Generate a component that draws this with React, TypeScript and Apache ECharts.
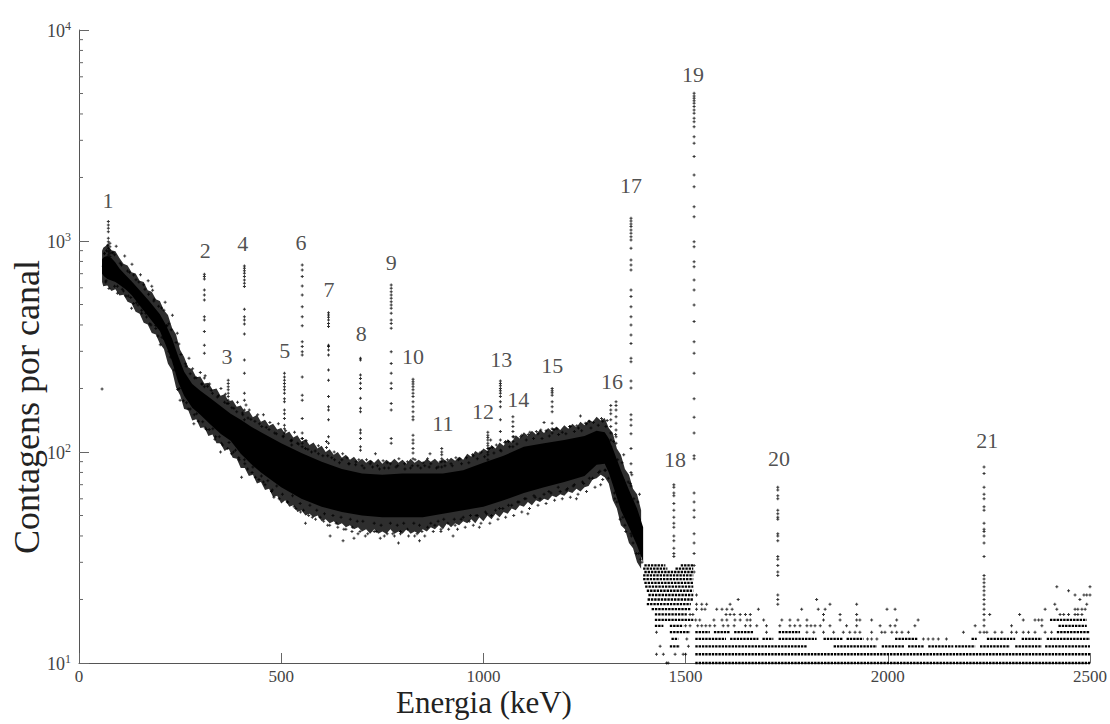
import React, { useEffect, useRef } from "react";
import * as echarts from "echarts";

// ---------- axis ticks ----------
const xTickValues = [0, 500, 1000, 1500, 2000, 2500];
const yMinorTicks = [20, 30, 40, 50, 60, 70, 80, 90, 200, 300, 400, 500, 600, 700, 800, 900, 2000, 3000, 4000, 5000, 6000, 7000, 8000, 9000];

// ---------- continuum: dense core of the point cloud ----------
const bandE = [57, 62, 70, 80, 90, 100, 115, 130, 150, 175, 200, 215, 230, 245, 260, 280, 300, 325, 350, 375, 400, 425, 450, 500, 550, 600, 650, 700, 750, 800, 850, 900, 950, 1000, 1050, 1100, 1150, 1200, 1250, 1280, 1300, 1310, 1320, 1340, 1360, 1380, 1395];
const bandHi = [820, 840, 850, 830, 790, 740, 690, 645, 585, 515, 450, 400, 345, 285, 240, 210, 195, 180, 165, 152, 142, 132, 124, 110, 99, 90, 83, 79, 78, 79, 79, 79, 82, 89, 96, 106, 110, 114, 119, 126, 124, 116, 104, 82, 66, 54, 44];
const bandLo = [700, 680, 660, 650, 640, 620, 590, 555, 495, 430, 375, 320, 270, 215, 185, 162, 150, 135, 122, 113, 98, 88, 80, 68, 60, 55, 52, 50, 49, 49, 49, 51, 53, 55, 59, 64, 68, 72, 77, 87, 88, 80, 70, 53, 44, 36, 30];

// ---------- continuum: ragged outer edge of the cloud [energy, upper, lower] ----------
const outerEdge = [
  [57, 900, 640], [60, 930, 610], [70, 960, 615], [80, 905, 580], [90, 895, 590], [100, 830, 552], [110, 780, 556], [120, 765, 515],
  [130, 712, 505], [140, 702, 462], [150, 648, 452], [160, 640, 410], [170, 585, 402], [180, 575, 366], [190, 530, 360],
  [200, 520, 326], [210, 470, 308], [220, 446, 262], [230, 388, 244], [240, 360, 202], [250, 305, 186], [260, 282, 160],
  [270, 252, 158], [280, 246, 141], [290, 226, 143], [300, 228, 130], [310, 211, 131], [320, 213, 119], [330, 198, 121],
  [340, 200, 110], [350, 185, 110], [360, 188, 101], [370, 174, 104], [380, 176, 94], [390, 164, 93], [400, 166, 84],
  [410, 155, 84], [420, 157, 77], [430, 146, 78], [440, 150, 71], [450, 139, 72], [460, 142, 66], [470, 133, 67],
  [480, 136, 61], [490, 128, 62], [500, 130, 57], [510, 122, 59], [520, 125, 55], [530, 117, 56], [540, 120, 52],
  [550, 112, 53], [560, 115, 50], [570, 108, 51], [580, 111, 49], [590, 104, 50], [600, 107, 47], [610, 100, 48],
  [620, 103, 46], [630, 97, 47], [640, 100, 45], [650, 94, 46], [660, 97, 44], [670, 92, 45], [680, 95, 43],
  [690, 90, 44], [700, 93, 42], [710, 89, 43], [720, 92, 41], [730, 89, 43], [740, 93, 41], [750, 88, 42],
  [760, 92, 41], [770, 89, 43], [780, 93, 41], [790, 89, 42], [800, 92, 41], [810, 88, 43], [820, 93, 41],
  [830, 89, 42], [840, 92, 41], [850, 89, 43], [860, 93, 42], [870, 90, 44], [880, 93, 43], [890, 89, 45],
  [900, 93, 43], [910, 90, 46], [920, 94, 44], [930, 91, 46], [940, 95, 45], [950, 92, 47], [960, 98, 46],
  [970, 95, 48], [980, 101, 46], [990, 98, 49], [1000, 104, 47], [1010, 101, 50], [1020, 108, 48], [1030, 104, 51],
  [1040, 111, 49], [1050, 107, 52], [1060, 115, 51], [1070, 111, 54], [1080, 120, 53], [1090, 116, 56], [1100, 124, 55],
  [1110, 119, 58], [1120, 126, 56], [1130, 121, 59], [1140, 128, 58], [1150, 123, 60], [1160, 130, 59], [1170, 125, 62],
  [1180, 132, 61], [1190, 127, 63], [1200, 134, 62], [1210, 129, 65], [1220, 136, 64], [1230, 131, 67], [1240, 139, 65],
  [1250, 134, 68], [1260, 142, 69], [1270, 139, 74], [1280, 147, 75], [1290, 141, 78], [1300, 145, 76], [1310, 130, 71],
  [1320, 123, 59], [1330, 104, 54], [1340, 97, 45], [1350, 83, 43], [1360, 78, 37], [1370, 67, 35], [1380, 63, 30],
  [1390, 53, 28]
];

// ---------- scattered channels around the continuum ----------
const scatterPts = [
  [57, 199], [60, 760], [63, 870], [66, 640], [68, 900], [82, 880], [88, 860], [95, 610], [105, 770], [110, 580],
  [120, 720], [128, 540], [135, 690], [142, 510], [148, 640], [155, 470], [160, 620], [165, 455], [172, 560], [178, 400],
  [185, 520], [190, 385], [197, 490], [205, 350], [210, 470], [217, 397], [222, 300], [228, 380], [235, 245], [240, 330],
  [248, 200], [252, 290], [258, 175], [265, 255], [270, 160], [275, 235], [285, 150], [290, 225], [295, 140], [305, 210],
  [312, 130], [318, 205], [322, 128], [330, 190], [338, 118], [345, 185], [352, 110], [360, 172], [368, 104], [378, 162],
  [382, 100], [390, 155], [396, 92], [405, 150], [410, 88], [418, 145], [428, 80], [435, 140], [445, 74], [452, 132],
  [460, 70], [470, 128], [478, 66], [488, 122], [495, 60], [505, 118], [515, 58], [525, 113], [532, 55], [540, 110],
  [548, 52], [560, 104], [568, 50], [575, 100], [585, 48], [592, 98], [605, 47], [615, 96], [620, 45], [632, 92],
  [640, 44], [650, 92], [660, 43], [668, 88], [675, 42], [685, 90], [690, 41], [700, 86], [708, 40], [720, 88],
  [730, 42], [738, 86], [745, 39], [755, 84], [762, 41], [770, 88], [780, 40], [788, 86], [795, 42], [805, 88],
  [812, 43], [820, 84], [830, 40], [838, 86], [848, 42], [855, 86], [862, 44], [870, 88], [880, 45], [888, 85],
  [895, 43], [905, 90], [912, 46], [920, 88], [930, 45], [938, 92], [945, 48], [958, 94], [965, 47], [975, 96],
  [985, 50], [995, 100], [1005, 52], [1015, 104], [1020, 50], [1032, 108], [1040, 54], [1055, 112], [1062, 56], [1075, 118],
  [1085, 58], [1095, 120], [1105, 60], [1115, 124], [1125, 62], [1135, 122], [1140, 60], [1155, 126], [1162, 65], [1175, 128],
  [1185, 68], [1195, 124], [1205, 66], [1215, 132], [1225, 70], [1235, 130], [1245, 72], [1255, 136], [1262, 75], [1272, 138],
  [1285, 80], [1295, 140], [1300, 82], [1318, 90], [1325, 60], [1332, 92], [1338, 48], [1345, 74], [1352, 42], [1358, 72],
  [1366, 40], [1372, 60], [1378, 33], [1386, 48], [1392, 30], [621, 40], [653, 38], [790, 37], [925, 40], [217, 397],
  [456, 150], [612, 112], [733, 98], [868, 98], [1018, 114], [1150, 138], [1240, 148], [300, 238], [180, 610], [402, 76],
  [560, 46], [680, 39], [842, 38], [990, 44], [1110, 51], [1230, 60], [1290, 70], [250, 176], [350, 100], [130, 480]
];

// ---------- fringe channels, just outside the dense core ----------
const fringePts = [
  [63, 875], [71, 955], [67, 648], [74, 595], [84, 880], [92, 945], [88, 610], [95, 566],
  [102, 785], [113, 850], [107, 590], [116, 548], [125, 712], [131, 775], [122, 548], [135, 505],
  [141, 655], [152, 692], [146, 497], [155, 455], [163, 590], [171, 648], [167, 436], [175, 405],
  [186, 530], [182, 585], [190, 398], [195, 355], [204, 482], [213, 512], [209, 346], [201, 322],
  [222, 405], [231, 445], [226, 282], [236, 262], [247, 325], [243, 365], [251, 215], [244, 198],
  [263, 262], [272, 278], [266, 171], [275, 160], [286, 224], [281, 248], [291, 152], [284, 136],
  [303, 210], [312, 230], [306, 139], [315, 128], [327, 196], [323, 210], [331, 129], [336, 115],
  [342, 182], [351, 200], [347, 118], [355, 108], [366, 170], [362, 188], [371, 111], [377, 98],
  [383, 161], [392, 172], [387, 102], [395, 94], [404, 153], [413, 167], [409, 92], [417, 83],
  [425, 143], [421, 158], [430, 85], [436, 76], [446, 136], [442, 150], [451, 77], [456, 72],
  [463, 131], [472, 138], [467, 73], [476, 65], [484, 123], [493, 136], [489, 69], [482, 61],
  [505, 119], [511, 126], [503, 63], [516, 58], [524, 113], [533, 124], [528, 62], [536, 54],
  [543, 109], [552, 116], [547, 57], [555, 53], [566, 103], [562, 113], [571, 56], [577, 49],
  [584, 101], [592, 107], [588, 53], [596, 49], [603, 96], [612, 105], [607, 51], [615, 45],
  [625, 94], [631, 100], [628, 50], [636, 46], [644, 89], [652, 98], [648, 49], [655, 43],
  [667, 88], [663, 94], [671, 48], [676, 44], [684, 87], [692, 92], [688, 47], [695, 42],
  [705, 84], [711, 92], [702, 47], [714, 41], [726, 85], [722, 90], [730, 46], [735, 42],
  [743, 83], [752, 91], [747, 45], [755, 40], [766, 84], [762, 89], [770, 46], [776, 41],
  [784, 85], [791, 93], [787, 45], [795, 41], [806, 83], [812, 90], [803, 46], [815, 40],
  [824, 86], [831, 92], [828, 46], [836, 41], [845, 84], [851, 89], [842, 45], [855, 40],
  [866, 85], [862, 93], [870, 46], [876, 42], [884, 84], [893, 90], [888, 47], [895, 42],
  [905, 86], [911, 92], [902, 48], [914, 43], [923, 86], [932, 94], [928, 48], [936, 43],
  [946, 88], [942, 93], [950, 49], [955, 44], [964, 89], [973, 97], [968, 50], [975, 45],
  [985, 93], [991, 99], [982, 50], [994, 46], [1003, 95], [1012, 104], [1008, 51], [1016, 46],
  [1026, 99], [1022, 105], [1030, 53], [1036, 48], [1044, 101], [1053, 111], [1048, 54], [1055, 49],
  [1065, 106], [1062, 112], [1070, 56], [1075, 50], [1083, 109], [1092, 118], [1088, 58], [1095, 52],
  [1106, 114], [1111, 121], [1102, 60], [1114, 54], [1124, 116], [1131, 125], [1128, 61], [1135, 56],
  [1145, 116], [1142, 127], [1150, 63], [1155, 57], [1163, 119], [1172, 128], [1167, 64], [1176, 59],
  [1186, 121], [1182, 129], [1190, 65], [1195, 60], [1204, 122], [1213, 132], [1208, 67], [1215, 61],
  [1225, 125], [1231, 133], [1222, 69], [1234, 63], [1243, 126], [1252, 137], [1248, 71], [1255, 65],
  [1266, 130], [1262, 140], [1270, 75], [1276, 68], [1284, 134], [1292, 144], [1288, 81], [1295, 74],
  [1303, 132], [1306, 141], [1302, 82], [1309, 75], [1322, 112], [1327, 121], [1324, 64], [1330, 58],
  [1343, 89], [1347, 97], [1345, 49], [1350, 45], [1363, 71], [1367, 78], [1365, 41], [1370, 37],
  [1382, 58], [1386, 63], [1384, 33], [1389, 31]
];

// ---------- peak columns (energy, counts) ----------
const peak01E = 72.5; const peak01 = [1236, 1191, 1148, 1107, 1030, 993, 957, 923, 889, 859, 813];
const peak01bE = 76.5; const peak01b = [975, 940, 905, 875, 845];
const peak02E = 310; const peak02 = [695, 678, 661, 586, 555, 525, 438, 422, 372, 321, 294, 224, 204];
const peak03E = 369; const peak03 = [219, 211, 204, 197, 190, 183, 176, 170];
const peak04E = 409; const peak04 = [762, 743, 723, 703, 678, 653, 630, 608, 475, 438, 422, 404, 362, 273, 236, 190, 176, 158, 142];
const peak05E = 508; const peak05 = [236, 227, 219, 211, 204, 197, 190, 179, 173, 158, 152, 144, 134, 129, 123];
const peak05bE = 526; const peak05b = [114, 108, 101, 95];
const peak06E = 552; const peak06 = [769, 729, 678, 612, 555, 488, 438, 397, 333, 316, 299, 288, 227, 186, 176, 144, 123, 116, 110, 106];
const peak07E = 617; const peak07 = [457, 446, 435, 422, 407, 393, 321, 316, 304, 288, 245, 219, 183, 164, 158, 142, 118, 110];
const peak08E = 696; const peak08 = [278, 273, 232, 223, 212, 200, 180, 161, 155, 127, 123, 116, 106, 102];
const peak09E = 772; const peak09 = [618, 597, 575, 555, 535, 516, 498, 480, 454, 422, 407, 386, 299, 263, 236, 212, 200, 170, 158, 116, 110];
const peak10E = 826; const peak10 = [221, 215, 210, 204, 197, 190, 183, 173, 164, 155, 147, 142, 120, 114, 110, 104, 99, 93];
const peak11E = 897; const peak11 = [104, 100, 97, 93, 90, 85];
const peak12E = 1011; const peak12 = [124, 120, 117, 114, 110, 107, 104, 100, 97, 92];
const peak13E = 1042; const peak13 = [217, 211, 206, 200, 195, 190, 183, 173, 164, 142, 125, 114, 102];
const peak14E = 1073; const peak14 = [147, 139, 132, 125, 118, 112, 106];
const peak15E = 1170; const peak15 = [200, 195, 191, 186, 173, 164, 155, 137, 129, 123];
const peak16E = 1315; const peak16 = [166, 158, 152, 142, 132, 123, 114, 106];
const peak16bE = 1328; const peak16b = [173, 166, 158, 147, 137, 127, 118, 110];
const peak17E = 1365; const peak17 = [1282, 1245, 1205, 1170, 1128, 1087, 1048, 1011, 923, 812, 769, 729, 586, 545, 488, 438, 400, 359, 327, 278, 268, 217, 201, 150, 142, 134, 122, 104, 88, 80, 69];
const peak18E = 1471; const peak18 = [70, 68, 64, 62, 57, 53, 49, 46, 44, 40, 38, 35, 33, 32];
const peak19E = 1521; const peak19 = [5012, 4864, 4742, 4624, 4498, 4335, 4178, 4027, 3815, 3673, 3483, 3120, 2903, 2512, 2056, 1808, 1454, 1304, 993, 940, 798, 756, 653, 586, 498, 415, 333, 294, 236, 179, 146, 123, 96, 93, 64, 58, 53, 49, 41, 37, 33, 29, 27];
const peak20E = 1728; const peak20 = [68, 66, 62, 60, 53, 51, 49, 48, 41, 40, 38, 32, 31, 29, 27, 26, 21, 20, 19];
const peak21E = 2238; const peak21 = [85, 79, 68, 63, 60, 55, 53, 46, 43, 42, 40, 37, 32, 26, 25, 24, 23, 22, 21, 20, 19, 18, 17, 16, 15, 14];

// ---------- peak labels ----------
const labelText = ["1", "2", "3", "4", "5", "6", "7", "8", "9", "10", "11", "12", "13", "14", "15", "16", "17", "18", "19", "20", "21"];
const labelE = [72, 312, 366, 405, 509, 549, 618, 698, 772, 826, 900, 999, 1044, 1086, 1170, 1318, 1365, 1474, 1518, 1731, 2246];
const labelC = [1563, 906, 285, 968, 304, 989, 586, 366, 787, 282, 136, 155, 273, 178, 258, 217, 1824, 92, 6120, 93, 113];

// ---------- low-count region: runs of channels at integer counts [count, fromE, toE] ----------
const rowRuns = [
  [29, 1398, 1450], [29, 1488, 1519], [28, 1395, 1455], [28, 1475, 1519], [27, 1398, 1519], [26, 1395, 1519],
  [25, 1395, 1519], [24, 1398, 1519], [23, 1400, 1519], [22, 1404, 1519], [21, 1408, 1519], [20, 1406, 1519],
  [19, 1404, 1513], [18, 1416, 1513], [17, 1424, 1503], [16, 1424, 1519], [15, 1424, 1445], [15, 1461, 1494],
  [14, 1461, 1511], [13, 1465, 1482], [12, 1461, 1486],
  [10, 1524, 2500], [11, 1524, 2500],
  [12, 1524, 1800], [12, 1866, 1973], [12, 1985, 2040], [12, 2050, 2090], [12, 2100, 2162], [12, 2166, 2216],
  [12, 2228, 2302], [12, 2315, 2381], [12, 2389, 2500],
  [13, 1524, 1600], [13, 1610, 1680], [13, 1690, 1717], [13, 1730, 1824], [13, 1841, 1890], [13, 1898, 1940],
  [13, 2018, 2075], [13, 2207, 2220], [13, 2245, 2315], [13, 2331, 2381], [13, 2393, 2500],
  [14, 1524, 1560], [14, 1570, 1610], [14, 1620, 1668], [14, 1730, 1783], [14, 2418, 2500],
  [15, 2422, 2492], [16, 2401, 2492]
];

// ---------- isolated channels at integer counts (energies) ----------
const lone10 = [1453, 1457];
const lone11 = [1428, 1445, 1474, 1494, 1500];
const lone12 = [1437, 1507];
const lone13 = [1503, 1950, 1960, 1973, 2088, 2100, 2112, 2125, 2145];
const lone14 = [1428, 1700, 1800, 1817, 1841, 1866, 1890, 1906, 1919, 1931, 1960, 1985, 1993, 2010, 2022, 2035, 2051, 2187, 2228, 2245, 2265, 2282, 2306, 2318, 2335, 2348, 2364, 2389, 2405];
const lone15 = [1500, 1511, 1530, 1540, 1550, 1560, 1572, 1593, 1605, 1620, 1648, 1660, 1676, 1700, 1733, 1758, 1770, 1783, 1800, 1810, 1820, 1833, 1857, 1898, 1923, 1981, 2006, 2018, 2067, 2216, 2306, 2381];
const lone16 = [1525, 1535, 1570, 1590, 1602, 1622, 1635, 1652, 1660, 1693, 1738, 1758, 1778, 1800, 1841, 1882, 1923, 1931, 1960, 2022, 2075, 2335, 2364, 2373, 2381];
const lone17 = [1511, 1518, 1600, 1610, 1620, 1635, 1648, 1660, 1841, 1882, 1923, 2252, 2326, 2426, 2435, 2447, 2463, 2470, 2480];
const lone18 = [1527, 1540, 1548, 1577, 1590, 1602, 1615, 1680, 1787, 1828, 1845, 1998, 2018, 2389, 2418, 2463, 2470, 2480, 2488];
const lone19 = [1527, 1540, 1552, 1610, 1857, 1923, 2413, 2492];
const lone20 = [1630, 1824, 2475];
const lone21 = [1527, 2463, 2485, 2492, 2500];
const lone22 = [2447];
const lone23 = [2418, 2500];

const SERIF = "Liberation Serif, DejaVu Serif, serif";
const PLUS = "path://M1,0H2V1H3V2H2V3H1V2H0V1H1Z";

export default function App() {
  const ref = useRef<HTMLDivElement>(null);

  useEffect(() => {
    if (!ref.current) return;
    const chart = echarts.init(ref.current, null, { renderer: "svg" });

    const peakCols: [number, number[]][] = [
      [peak01E, peak01], [peak01bE, peak01b], [peak02E, peak02], [peak03E, peak03], [peak04E, peak04],
      [peak05E, peak05], [peak05bE, peak05b], [peak06E, peak06], [peak07E, peak07], [peak08E, peak08],
      [peak09E, peak09], [peak10E, peak10], [peak11E, peak11], [peak12E, peak12], [peak13E, peak13],
      [peak14E, peak14], [peak15E, peak15], [peak16E, peak16], [peak16bE, peak16b], [peak17E, peak17],
      [peak18E, peak18], [peak19E, peak19], [peak20E, peak20], [peak21E, peak21]
    ];
    const peakData: number[][] = [];
    peakCols.forEach(([e, cs]) => cs.forEach((c) => peakData.push([e, c])));

    const loneLists: [number, number[]][] = [
      [10, lone10], [11, lone11], [12, lone12], [13, lone13], [14, lone14], [15, lone15], [16, lone16],
      [17, lone17], [18, lone18], [19, lone19], [20, lone20], [21, lone21], [22, lone22], [23, lone23]
    ];
    const loneData: number[][] = [];
    loneLists.forEach(([lvl, es]) => es.forEach((e) => loneData.push([e, lvl])));

    const pointStyle = {
      type: "scatter",
      symbol: PLUS,
      symbolSize: 3,
      itemStyle: { color: "#000" },
      silent: true,
      z: 3
    };

    const option: any = {
      animation: false,
      backgroundColor: "#fff",
      grid: { left: 79, right: 20, top: 30, bottom: 61, containLabel: false },
      xAxis: {
        type: "value",
        min: xTickValues[0],
        max: xTickValues[xTickValues.length - 1],
        interval: 500,
        axisLine: { show: true, onZero: false, lineStyle: { color: "#555", width: 1 } },
        axisTick: { show: true, inside: true, length: 10, lineStyle: { color: "#666" } },
        axisLabel: {
          color: "#444",
          fontFamily: SERIF,
          fontSize: 17,
          margin: 5,
          formatter: (v: number) => String(v)
        },
        splitLine: { show: false }
      },
      yAxis: {
        type: "log",
        logBase: 10,
        min: 10,
        max: 10000,
        axisLine: { show: true, lineStyle: { color: "#555", width: 1 } },
        axisTick: { show: true, inside: true, length: 10, lineStyle: { color: "#666" } },
        axisLabel: {
          margin: 8,
          formatter: (v: number) => `{b|10}{s|${Math.round(Math.log10(v))}}`,
          rich: {
            b: { fontFamily: SERIF, fontSize: 18, color: "#444", verticalAlign: "bottom", lineHeight: 20 },
            s: { fontFamily: SERIF, fontSize: 12, color: "#444", verticalAlign: "top", lineHeight: 20, padding: [0, 0, 12, 0] }
          }
        },
        splitLine: { show: false }
      },
      graphic: [
        {
          type: "text",
          x: 484,
          y: 702,
          style: { text: "Energia (keV)", font: `31px ${SERIF}`, fill: "#222", align: "center", verticalAlign: "middle" }
        },
        {
          type: "text",
          x: 27,
          y: 407,
          rotation: Math.PI / 2,
          style: { text: "Contagens por canal", font: `36px ${SERIF}`, fill: "#222", align: "center", verticalAlign: "middle" }
        }
      ],
      series: [
        {
          type: "custom",
          silent: true,
          z: 1,
          data: [[outerEdge[0][0], outerEdge[0][1]]],
          renderItem: (_p: any, api: any) => {
            const upper = outerEdge.map((r) => api.coord([r[0], r[1]]));
            const lower = outerEdge.map((r) => api.coord([r[0], r[2]])).reverse();
            return { type: "polygon", shape: { points: upper.concat(lower) }, style: { fill: "#2e2e2e" } };
          }
        },
        {
          type: "custom",
          silent: true,
          z: 2,
          data: [[bandE[0], bandHi[0]]],
          renderItem: (_p: any, api: any) => {
            const upper = bandE.map((e, i) => api.coord([e, bandHi[i]]));
            const lower = bandE.map((e, i) => api.coord([e, bandLo[i]])).reverse();
            return { type: "polygon", shape: { points: upper.concat(lower) }, style: { fill: "#000" } };
          }
        },
        {
          type: "custom",
          silent: true,
          z: 2,
          encode: { x: [0, 2], y: 1 },
          data: rowRuns.map((r) => [r[1], r[0], r[2]]),
          renderItem: (_p: any, api: any) => {
            const a = api.coord([api.value(0), api.value(1)]);
            const b = api.coord([api.value(2), api.value(1)]);
            return {
              type: "line",
              shape: { x1: a[0], y1: a[1], x2: b[0], y2: b[1] },
              style: { stroke: "#000", lineWidth: 2.3, lineDash: [2.4, 0.9] }
            };
          }
        },
        {
          type: "custom",
          silent: true,
          z: 4,
          data: yMinorTicks.map((v) => [0, v]),
          renderItem: (_p: any, api: any) => {
            const p = api.coord([0, api.value(1)]);
            return {
              type: "line",
              shape: { x1: p[0], y1: p[1], x2: p[0] + 4, y2: p[1] },
              style: { stroke: "#666", lineWidth: 1 }
            };
          }
        },
        { ...pointStyle, data: fringePts },
        { ...pointStyle, data: scatterPts },
        { ...pointStyle, data: loneData },
        { ...pointStyle, data: peakData },
        {
          type: "scatter",
          symbolSize: 0,
          silent: true,
          z: 5,
          data: labelE.map((e, i) => ({ value: [e, labelC[i]], name: labelText[i] })),
          label: {
            show: true,
            position: "inside",
            formatter: "{b}",
            fontFamily: SERIF,
            fontSize: 22,
            color: "#222"
          }
        }
      ]
    };

    chart.setOption(option);
    return () => chart.dispose();
  }, []);

  return (
    <div
      ref={ref}
      style={{ position: "absolute", left: 0, top: 0, width: 1110, height: 724, background: "#fff" }}
    />
  );
}
